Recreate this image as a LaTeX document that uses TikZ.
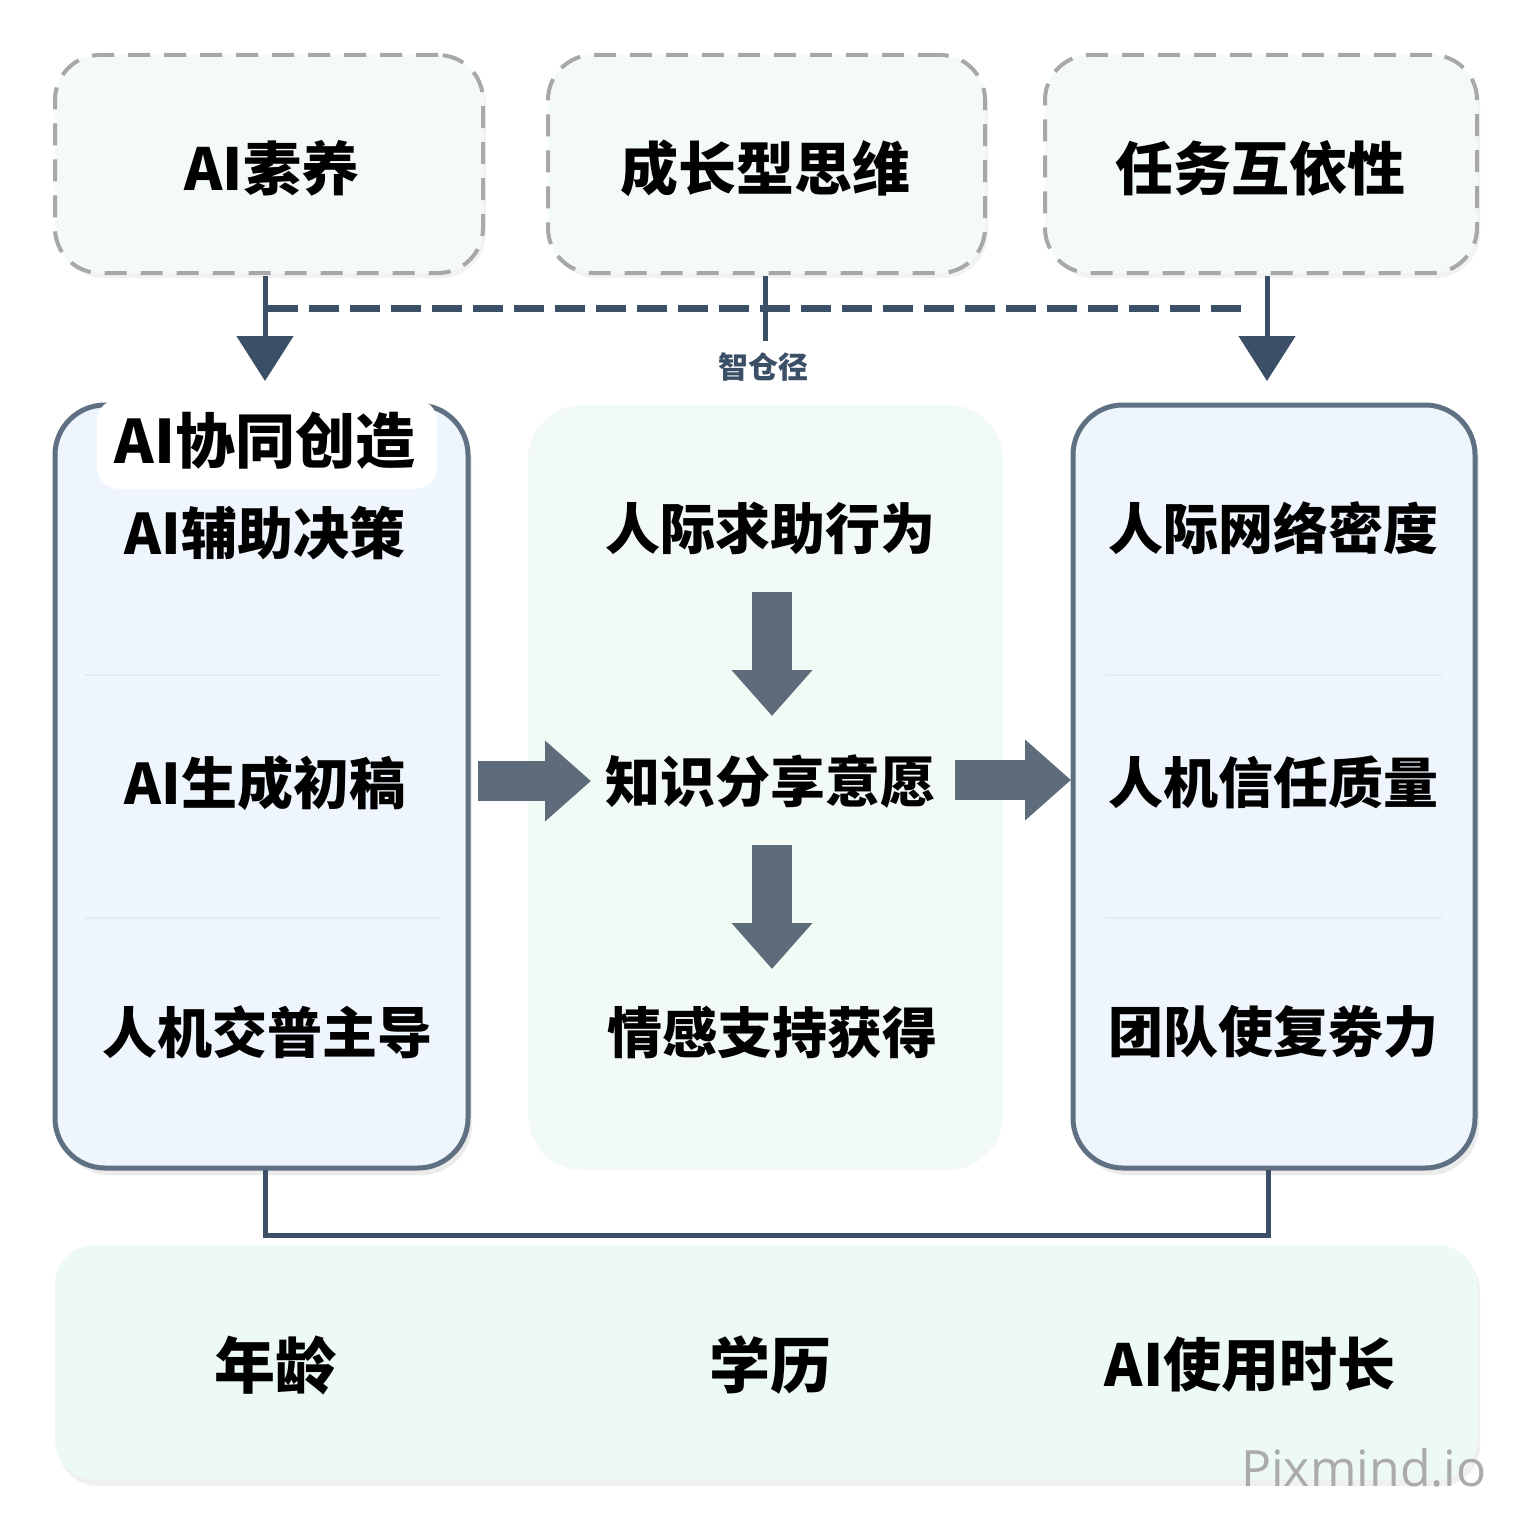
\documentclass[tikz,border=0pt]{standalone}
\usepackage{fontspec}
\setmainfont{Noto Sans CJK SC}
\newfontfamily\wmfont{Open Sans}
\usetikzlibrary{arrows.meta,shadows}
\definecolor{dashgray}{HTML}{A8A8A8}
\definecolor{topfill}{HTML}{F4FAF8}
\definecolor{boxfill}{HTML}{EEF5FC}
\definecolor{boxline}{HTML}{5F7082}
\definecolor{midfill}{HTML}{F2FAF6}
\definecolor{botfill}{HTML}{EDFAF3}
\definecolor{conn}{HTML}{3B4F66}
\definecolor{blockc}{HTML}{5D6B7B}
\definecolor{divc}{HTML}{E2EAF2}
\definecolor{wmgray}{HTML}{ABABAB}
\begin{document}
\begin{tikzpicture}[x=1pt,y=-1pt,
  big/.style={font=\bfseries\fontsize{58}{62}\selectfont, text=black, inner sep=0pt},
  item/.style={font=\bfseries\fontsize{55}{60}\selectfont, text=black, inner sep=0pt},
  topbox/.style={draw=dashgray, line width=4pt, dash pattern=on 22pt off 14pt, fill=topfill,
     rounded corners=45pt, minimum height=218pt, inner sep=0pt,
     drop shadow={shadow xshift=3pt, shadow yshift=-5pt, opacity=0.05, fill=black}},
  sidebox/.style={draw=boxline, line width=5pt, fill=boxfill, rounded corners=50pt,
     minimum height=763pt, inner sep=0pt,
     drop shadow={shadow xshift=4pt, shadow yshift=-7pt, opacity=0.08, fill=black}},
  panel/.style={fill=midfill, rounded corners=55pt, inner sep=0pt},
  conline/.style={draw=conn, line width=5pt},
  conarrow/.style={conline, -{Triangle[width=56pt,length=45pt]}},
  blockarrow/.style={draw=blockc, line width=40pt, -{Triangle[width=78pt,length=46pt]}},
  divider/.style={draw=divc, line width=2pt},
]
\useasboundingbox[fill=white] (0,0) rectangle (1536,1536);

% top dashed boxes
\node[topbox, minimum width=428pt] (t1) at (269,164) {};
\node[topbox, minimum width=437pt] (t2) at (766.5,164) {};
\node[topbox, minimum width=432pt] (t3) at (1261,164) {};
\node[big] (t1l) at (272,168) {AI素养};
\node[big] (t2l) at (765,168) {成长型思维};
\node[big] (t3l) at (1260,168) {任务互依性};

% bottom panel
\node[fill=botfill, rounded corners=40pt, minimum width=1422pt, minimum height=235pt, inner sep=0pt,
  drop shadow={shadow xshift=3pt, shadow yshift=-6pt, opacity=0.06, fill=black}] (bot) at (766,1362.5) {};

% middle panel
\node[panel, minimum width=475pt, minimum height=765pt] (mid) at (765.5,787.5) {};

% side boxes
\node[sidebox, minimum width=413pt] (lb) at (261.5,786.5) {};
\node[sidebox, minimum width=402pt] (rb) at (1274,786.5) {};

% header of left box
\node[fill=white, rounded corners=22pt, minimum width=340pt, minimum height=90pt, inner sep=0pt] (hdr) at (267,444) {};
\node[font=\bfseries\fontsize{60}{64}\selectfont, inner sep=0pt] (hdrl) at (265,441) {AI协同创造};

% dividers
\draw[divider] (85,675) -- (440,675);
\draw[divider] (85,918) -- (440,918);
\draw[divider] (1105,675) -- (1442,675);
\draw[divider] (1105,918) -- (1442,918);

% left items
\node[item, font=\bfseries\fontsize{56}{60}\selectfont] (l1) at (265,533) {AI辅助决策};
\node[item, font=\bfseries\fontsize{56}{60}\selectfont] (l2) at (265,783) {AI生成初稿};
\node[item] (l3) at (267,1032) {人机交普主导};
% middle items
\node[item] (m1) at (770,528) {人际求助行为};
\node[item] (m2) at (770,782) {知识分享意愿};
\node[item] (m3) at (772,1032) {情感支持获得};
% right items
\node[item] (r1) at (1273,528) {人际网络密度};
\node[item] (r2) at (1273,782) {人机信任质量};
\node[item] (r3) at (1273,1032) {团队使复劵力};
% bottom items
\node[big, font=\bfseries\fontsize{61}{64}\selectfont] (b1) at (275,1365) {年龄};
\node[big, font=\bfseries\fontsize{61}{64}\selectfont] (b2) at (770,1365) {学历};
\node[big] (b3) at (1250,1365) {AI使用时长};

% top connectors
\coordinate (c1) at (265,276);
\coordinate (c1e) at (265,381);
\coordinate (c3) at (1267,276);
\coordinate (c3e) at (1267,381);
\coordinate (c2) at (765,276);
\coordinate (c2e) at (765,341);
\coordinate (dl) at (268,308);
\coordinate (dr) at (1250,308);
\draw[conarrow] (c1) -- (c1e);
\draw[conarrow] (c3) -- (c3e);
\draw[conline] (c2) -- (c2e);
\draw[draw=conn, line width=7pt, dash pattern=on 30pt off 11pt] (dl) -- (dr);
\node[font=\bfseries\fontsize{30}{32}\selectfont, text=conn, inner sep=0pt] (lab) at (763,367) {智仓径};

% block arrows
\coordinate (v1s) at (772,592);
\coordinate (v1e) at (772,716);
\coordinate (v2s) at (772,845);
\coordinate (v2e) at (772,969);
\coordinate (h1s) at (478,781);
\coordinate (h1e) at (591,781);
\coordinate (h2s) at (955,780);
\coordinate (h2e) at (1071,780);
\draw[blockarrow] (v1s) -- (v1e);
\draw[blockarrow] (v2s) -- (v2e);
\draw[blockarrow] (h1s) -- (h1e);
\draw[blockarrow] (h2s) -- (h2e);

% bottom connector
\coordinate (bl) at (265,1170);
\coordinate (br) at (1268,1170);
\draw[conline, line join=miter] (bl) -- (265,1235) -- (1268,1235) -- (br);

% watermark
\node[font=\wmfont\fontsize{50}{50}\selectfont, text=wmgray, inner sep=0pt] (wm) at (1364,1468) {Pixmind.io};
\end{tikzpicture}
\end{document}
